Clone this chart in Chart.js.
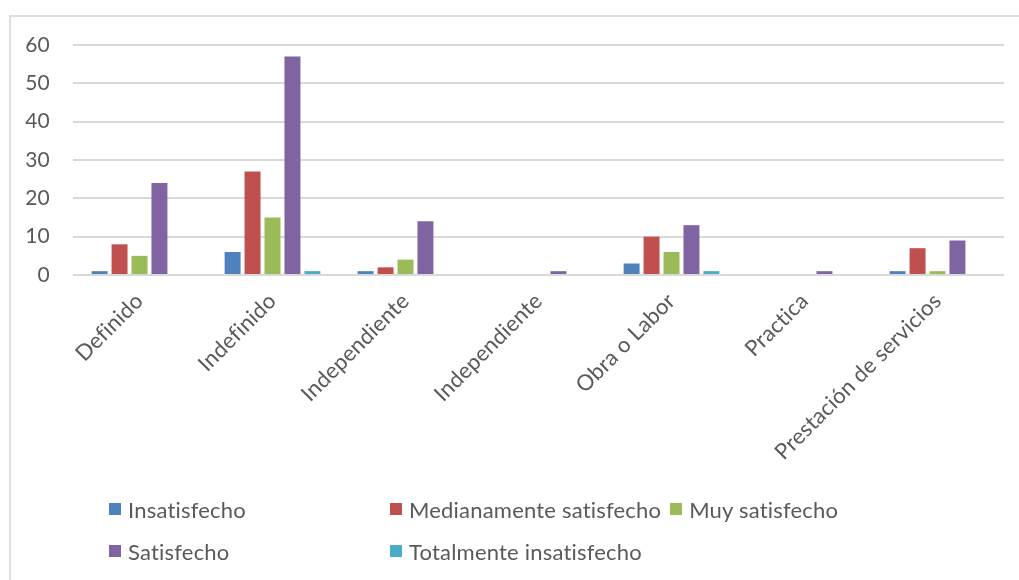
<!DOCTYPE html>
<html lang="es">
<head>
<meta charset="utf-8">
<title>Satisfacción por tipo de contrato</title>
<script src="https://cdn.jsdelivr.net/npm/chart.js@4/dist/chart.umd.min.js"></script>
<style>
  html, body { margin: 0; padding: 0; background: #fff; overflow: hidden; }
  #wrap { position: relative; width: 1019px; height: 580px; }
  #frame { position: absolute; left: 9px; top: 15px; width: 1100px; height: 700px;
           border: 2px solid #dedede; box-sizing: border-box; }
  #chart { position: absolute; left: 0; top: 0; }
  .legend { position: absolute; left: 109px; font-family: Lato, sans-serif; font-size: 22px;
            letter-spacing: 0.2px; font-variant-ligatures: none; color: #595959; }
  .legend .row { display: flex; align-items: center; height: 42px; }
  .legend .item { display: flex; align-items: center; margin-right: 9px; white-space: nowrap; }
  .legend .item.first { width: 281px; margin-right: 0; }
  .legend .box { width: 12px; height: 12px; margin-right: 7px; }
</style>
</head>
<body>
<div id="wrap">
  <div id="frame"></div>
  <canvas id="chart" width="1019" height="580"></canvas>
  <div class="legend" id="legend" style="top: 488px;"></div>
</div>
<script>
// Tipos de contrato (eje X)
const categories = ['Definido', 'Indefinido', 'Independiente', 'Independiente', 'Obra o Labor', 'Practica', 'Prestación de servicios'];

// Número de respuestas por nivel de satisfacción
const insatisfecho = [1, 6, 1, 0, 3, 0, 1];
const medianamente = [8, 27, 2, 0, 10, 0, 7];
const muySatisfecho = [5, 15, 4, 0, 6, 0, 1];
const satisfecho = [24, 57, 14, 1, 13, 1, 9];
const totalInsatisfecho = [0, 1, 0, 0, 1, 0, 0];

const seriesNames = ['Insatisfecho', 'Medianamente satisfecho', 'Muy satisfecho', 'Satisfecho', 'Totalmente insatisfecho'];
const seriesData = [insatisfecho, medianamente, muySatisfecho, satisfecho, totalInsatisfecho];
const seriesColors = ['#4f81bd', '#c0504d', '#9bbb59', '#8064a2', '#4bacc6'];

const yTicks = [0, 10, 20, 30, 40, 50, 60];

const textColor = '#595959';
const fontFamily = 'Lato, sans-serif';

// Sin ligaduras "fi" en las etiquetas del canvas
const noLigatures = {
    id: 'noLigatures',
    beforeDraw(chart) {
        chart.ctx.letterSpacing = '0.2px';
        chart.ctx.textRendering = 'optimizeSpeed';
    }
};

const ctx = document.getElementById('chart').getContext('2d');
const chart = new Chart(ctx, {
    type: 'bar',
    data: {
        labels: categories,
        datasets: seriesNames.map((name, i) => ({
            label: name,
            data: seriesData[i],
            backgroundColor: seriesColors[i],
            borderWidth: 0,
            categoryPercentage: 0.75,
            barPercentage: 0.8
        }))
    },
    options: {
        responsive: false,
        animation: false,
        layout: { padding: { top: 45, right: 15, left: 0, bottom: 0 } },
        plugins: {
            legend: { display: false },
            tooltip: { enabled: false }
        },
        scales: {
            x: {
                grid: { display: false },
                border: { display: false },
                ticks: {
                    color: textColor,
                    font: { family: fontFamily, size: 22 },
                    minRotation: 45,
                    maxRotation: 45,
                    autoSkip: false,
                    padding: 5
                },
                afterFit: scale => { scale.height = 305; }
            },
            y: {
                min: 0,
                max: 60,
                afterBuildTicks: scale => { scale.ticks = yTicks.map(v => ({ value: v })); },
                grid: { color: '#d9d9d9', lineWidth: 2, drawTicks: false },
                border: { display: false },
                ticks: {
                    color: textColor,
                    font: { family: fontFamily, size: 21 },
                    padding: 23
                },
                afterFit: scale => { scale.width = 73; }
            }
        }
    },
    plugins: [noLigatures]
});

// Leyenda en dos filas, con la columna de la derecha alineada
const legend = document.getElementById('legend');
const rows = [[0, 1, 2], [3, 4]];
rows.forEach(idx => {
    const row = document.createElement('div');
    row.className = 'row';
    idx.forEach((i, k) => {
        const item = document.createElement('div');
        item.className = 'item' + (k === 0 ? ' first' : '');
        const box = document.createElement('span');
        box.className = 'box';
        box.style.background = seriesColors[i];
        item.appendChild(box);
        item.appendChild(document.createTextNode(seriesNames[i]));
        row.appendChild(item);
    });
    legend.appendChild(row);
});
</script>
</body>
</html>
